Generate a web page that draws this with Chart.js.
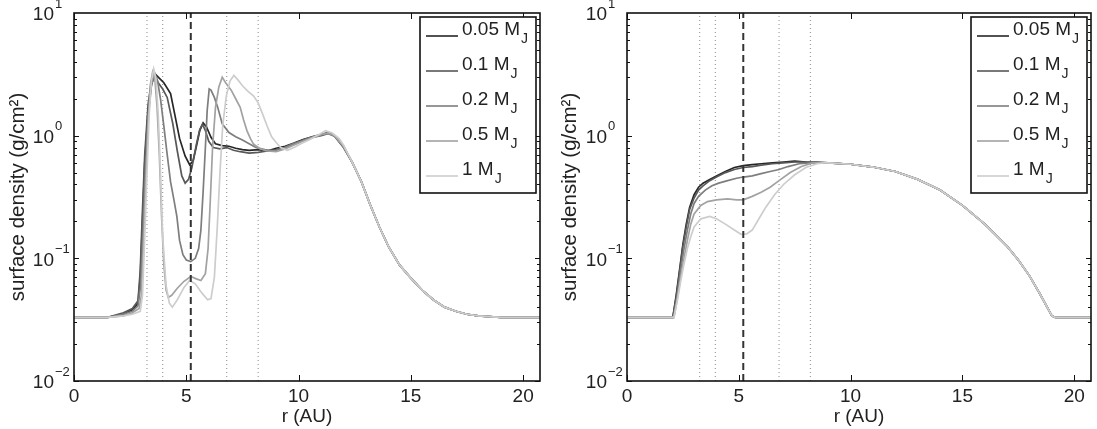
<!doctype html>
<html lang="en">
  <head>
    <meta charset="utf-8">
    <title>Surface density profiles</title>
    <style>
      * { margin: 0; padding: 0; }
      body { background: #fff; width: 1097px; height: 429px; overflow: hidden; }
      .panel { position: absolute; top: 0; height: 429px; }
      #leftBox { left: 0; width: 548px; }
      #rightBox { left: 552px; width: 545px; }
    </style>
  </head>
  <body>
    <div class="panel" id="leftBox"><canvas id="leftChart"></canvas></div>
    <div class="panel" id="rightBox"><canvas id="rightChart"></canvas></div>
    <script src="https://cdn.jsdelivr.net/npm/chart.js"></script>
    <script>
    // setup
    const masses = ['0.05', '0.1', '0.2', '0.5', '1'];
    const xTicks = [0, 5, 10, 15, 20];
    const yTicks = [0.01, 0.1, 1, 10];
    const planetR = 5.2;
    const hillR = [3.25, 3.95, 6.8, 8.2];

    // left panel, [r (AU), sigma (g/cm2)]
    const left005 = [[0,0.033],[1.5,0.033],[2.2,0.035],[2.6,0.038],[2.85,0.043],[2.95,0.07],[3.05,0.2],[3.15,0.6],[3.3,1.6],[3.45,2.6],[3.6,3.2],[3.75,3.0],[4.0,2.7],[4.3,2.2],[4.5,1.45],[4.7,0.95],[4.95,0.68],[5.15,0.58],[5.3,0.62],[5.45,0.82],[5.6,1.1],[5.75,1.27],[5.9,1.18],[6.1,0.97],[6.3,0.86],[6.6,0.83],[6.9,0.82],[7.2,0.79],[7.5,0.77],[7.8,0.76],[8.2,0.77],[8.6,0.75],[9.0,0.79],[9.4,0.82],[9.8,0.87],[10.2,0.93],[10.6,0.98],[11.0,1.02],[11.3,1.06],[11.6,1.0],[12.0,0.82]];
    const left01 = [[0,0.033],[1.5,0.033],[2.2,0.036],[2.6,0.039],[2.85,0.045],[2.95,0.08],[3.05,0.25],[3.15,0.7],[3.3,1.8],[3.45,2.8],[3.6,3.1],[3.75,2.7],[3.95,2.4],[4.15,2.05],[4.4,1.25],[4.6,0.75],[4.8,0.47],[4.95,0.41],[5.1,0.44],[5.25,0.55],[5.45,0.85],[5.6,1.12],[5.72,1.24],[5.85,1.1],[6.0,0.9],[6.2,0.8],[6.5,0.78],[6.8,0.8],[7.1,0.76],[7.4,0.74],[7.8,0.72],[8.2,0.73],[8.6,0.75],[9.0,0.77],[9.4,0.8],[9.8,0.86],[10.2,0.92],[10.6,0.97],[11.0,1.0],[11.3,1.04],[11.6,0.99],[12.0,0.8]];
    const left02 = [[0,0.033],[1.5,0.033],[2.2,0.035],[2.6,0.037],[2.85,0.041],[2.97,0.06],[3.07,0.16],[3.17,0.5],[3.3,1.4],[3.45,2.6],[3.6,3.2],[3.72,2.8],[3.85,2.0],[4.0,1.2],[4.15,0.7],[4.3,0.42],[4.45,0.3],[4.58,0.22],[4.7,0.14],[4.85,0.107],[5.0,0.097],[5.2,0.094],[5.4,0.1],[5.55,0.12],[5.65,0.17],[5.75,0.35],[5.85,0.8],[5.93,1.6],[6.02,2.4],[6.1,2.35],[6.25,2.05],[6.4,1.7],[6.6,1.25],[6.9,1.06],[7.2,0.98],[7.5,0.92],[7.8,0.86],[8.1,0.8],[8.5,0.77],[8.9,0.75],[9.3,0.79],[9.7,0.85],[10.1,0.9],[10.5,0.96],[10.9,1.01],[11.3,1.05],[11.6,1.0],[12.0,0.81]];
    const left05 = [[0,0.033],[1.5,0.033],[2.2,0.034],[2.6,0.036],[2.9,0.039],[3.0,0.05],[3.1,0.14],[3.2,0.45],[3.3,1.3],[3.4,2.6],[3.5,3.3],[3.6,2.9],[3.7,1.7],[3.8,0.7],[3.9,0.22],[4.0,0.09],[4.1,0.055],[4.2,0.048],[4.35,0.05],[4.6,0.057],[4.9,0.065],[5.2,0.071],[5.45,0.068],[5.65,0.066],[5.85,0.075],[5.97,0.12],[6.07,0.3],[6.17,0.8],[6.3,1.7],[6.45,2.5],[6.6,3.0],[6.75,2.7],[7.0,2.35],[7.2,2.0],[7.4,1.7],[7.55,1.35],[7.7,1.1],[7.85,0.95],[8.0,0.85],[8.3,0.78],[8.6,0.75],[9.0,0.74],[9.4,0.78],[9.8,0.84],[10.2,0.9],[10.6,0.96],[11.0,1.02],[11.3,1.05],[11.6,1.0],[12.0,0.82]];
    const left1 = [[0,0.033],[1.5,0.033],[2.2,0.034],[2.6,0.035],[2.95,0.037],[3.05,0.05],[3.15,0.15],[3.25,0.5],[3.35,1.5],[3.45,2.8],[3.55,3.5],[3.65,2.9],[3.75,1.5],[3.85,0.5],[3.95,0.15],[4.1,0.06],[4.25,0.043],[4.38,0.04],[4.6,0.046],[4.9,0.058],[5.15,0.066],[5.4,0.062],[5.7,0.052],[5.95,0.046],[6.1,0.047],[6.25,0.07],[6.38,0.18],[6.5,0.5],[6.62,1.2],[6.78,2.1],[6.95,2.8],[7.12,3.1],[7.3,2.85],[7.5,2.55],[7.75,2.3],[8.0,2.1],[8.2,1.85],[8.4,1.5],[8.6,1.2],[8.8,0.98],[9.0,0.88],[9.2,0.8],[9.5,0.76],[9.8,0.8],[10.1,0.86],[10.5,0.93],[10.9,1.02],[11.2,1.1],[11.5,1.05],[11.8,0.95],[12.0,0.84]];
    const leftTail = [[12.4,0.6],[12.8,0.42],[13.2,0.27],[13.6,0.18],[14,0.125],[14.5,0.088],[15,0.069],[15.5,0.055],[16,0.046],[16.5,0.04],[17,0.037],[17.5,0.035],[18,0.034],[19,0.033],[20.75,0.033]];

    // right panel, [r (AU), sigma (g/cm2)]
    const right005 = [[0,0.033],[2.05,0.033],[2.2,0.05],[2.35,0.08],[2.5,0.13],[2.65,0.19],[2.8,0.26],[3.0,0.33],[3.2,0.38],[3.4,0.41],[3.7,0.44],[4.0,0.47],[4.4,0.51],[4.8,0.55],[5.2,0.57],[5.6,0.58],[6.0,0.59],[6.5,0.6],[7.0,0.61],[7.5,0.62],[8.0,0.61],[8.5,0.605]];
    const right01 = [[0,0.033],[2.05,0.033],[2.2,0.048],[2.35,0.077],[2.5,0.125],[2.65,0.18],[2.8,0.25],[3.0,0.31],[3.2,0.36],[3.4,0.39],[3.7,0.43],[4.0,0.46],[4.4,0.5],[4.8,0.53],[5.2,0.55],[5.6,0.56],[6.0,0.575],[6.5,0.59],[7.0,0.6],[7.5,0.61],[8.0,0.61],[8.5,0.605]];
    const right02 = [[0,0.033],[2.08,0.033],[2.25,0.05],[2.4,0.08],[2.55,0.12],[2.7,0.17],[2.85,0.23],[3.0,0.28],[3.2,0.32],[3.5,0.36],[3.8,0.39],[4.1,0.41],[4.5,0.43],[4.9,0.45],[5.2,0.46],[5.6,0.47],[6.0,0.49],[6.4,0.51],[6.8,0.53],[7.2,0.56],[7.7,0.59],[8.2,0.6],[8.6,0.6]];
    const right05 = [[0,0.033],[2.1,0.033],[2.25,0.047],[2.4,0.07],[2.55,0.1],[2.7,0.14],[2.85,0.19],[3.0,0.23],[3.3,0.27],[3.6,0.29],[4.0,0.3],[4.5,0.305],[4.9,0.3],[5.2,0.3],[5.6,0.32],[6.0,0.345],[6.4,0.38],[6.8,0.43],[7.3,0.5],[7.8,0.56],[8.3,0.6],[8.7,0.6]];
    const right1 = [[0,0.033],[2.1,0.033],[2.25,0.045],[2.4,0.065],[2.55,0.09],[2.7,0.12],[2.85,0.15],[3.0,0.18],[3.3,0.21],[3.7,0.22],[4.0,0.21],[4.4,0.19],[4.8,0.17],[5.1,0.157],[5.35,0.158],[5.6,0.17],[5.9,0.21],[6.2,0.26],[6.6,0.33],[7.0,0.4],[7.5,0.48],[8.0,0.55],[8.5,0.59],[8.8,0.6]];
    const rightTail = [[9,0.6],[10,0.585],[11,0.555],[12,0.51],[13,0.44],[14,0.36],[15,0.27],[16,0.19],[17,0.125],[17.5,0.097],[18,0.072],[18.5,0.05],[19,0.034],[19.15,0.033],[20.75,0.033]];

    const lineColors = ['#262626', '#585858', '#7e7e7e', '#a2a2a2', '#cdcdcd'];
    const font = '"Liberation Sans", Arial, sans-serif';

    // matlab style box, inward ticks, 10^n labels and legend
    const matlabAxes = {
      id: 'matlabAxes',
      afterDraw(chart) {
        const { ctx, chartArea: a, scales: { x, y } } = chart;
        ctx.save();
        ctx.strokeStyle = '#111';
        ctx.lineWidth = 1;
        ctx.beginPath();
        xTicks.forEach(v => {
          const px = Math.round(x.getPixelForValue(v)) + 0.5;
          ctx.moveTo(px, a.bottom); ctx.lineTo(px, a.bottom - 6);
          ctx.moveTo(px, a.top); ctx.lineTo(px, a.top + 6);
        });
        for (let e = -2; e < 1; e++) {
          for (let m = 1; m < 10; m++) {
            const py = Math.round(y.getPixelForValue(m * Math.pow(10, e))) + 0.5;
            const len = m === 1 ? 5 : 3;
            ctx.moveTo(a.left, py); ctx.lineTo(a.left + len, py);
            ctx.moveTo(a.right, py); ctx.lineTo(a.right - len, py);
          }
        }
        ctx.stroke();
        ctx.lineWidth = 1.6;
        ctx.strokeRect(a.left, a.top, a.right - a.left, a.bottom - a.top);

        // y tick labels with superscript exponents
        ctx.fillStyle = '#222';
        ctx.textBaseline = 'middle';
        yTicks.forEach(v => {
          const py = y.getPixelForValue(v);
          const e = Math.round(Math.log10(v));
          ctx.font = '19px ' + font;
          ctx.textAlign = 'right';
          ctx.fillText('10', a.left - 20, py + 2);
          ctx.font = '13px ' + font;
          ctx.textAlign = 'left';
          ctx.fillText((e < 0 ? '\u2212' : '') + Math.abs(e), a.left - 19, py - 9);
        });

        // legend
        const bx = a.right - 120, by = 17, bw = 116, bh = 176;
        ctx.fillStyle = '#fff';
        ctx.fillRect(bx, by, bw, bh);
        ctx.strokeStyle = '#111';
        ctx.lineWidth = 1.6;
        ctx.strokeRect(bx, by, bw, bh);
        chart.data.datasets.slice(0, masses.length).forEach((d, i) => {
          const cy = by + 12.5 + i * 35;
          ctx.strokeStyle = d.borderColor;
          ctx.lineWidth = 1.6;
          ctx.beginPath();
          ctx.moveTo(bx + 6, cy + 6.5); ctx.lineTo(bx + 38, cy + 6.5);
          ctx.stroke();
          const [main, sub] = d.label.split('_');
          ctx.fillStyle = '#222';
          ctx.font = '19px ' + font;
          ctx.textAlign = 'left';
          ctx.fillText(main, bx + 42, cy);
          const w = ctx.measureText(main).width;
          ctx.font = '14px ' + font;
          ctx.fillText(sub, bx + 42 + w + 1, cy + 10);
        });
        ctx.restore();
      }
    };

    function makeChart(id, series, tail, padRight, yWidth) {
      const datasets = series.map((s, i) => ({
        label: masses[i] + ' M_J',
        data: s.concat(tail).map(p => ({ x: p[0], y: p[1] })),
        borderColor: lineColors[i],
        borderWidth: 1.7,
        pointRadius: 0,
        order: 10 - i
      }));
      hillR.forEach(r => datasets.push({
        label: '',
        data: [{ x: r, y: 0.01 }, { x: r, y: 10 }],
        borderColor: '#8a8a8a',
        borderWidth: 1,
        borderDash: [1, 3],
        pointRadius: 0,
        order: 20
      }));
      datasets.push({
        label: '',
        data: [{ x: planetR, y: 0.01 }, { x: planetR, y: 10 }],
        borderColor: '#333',
        borderWidth: 2,
        borderDash: [7, 4],
        pointRadius: 0,
        order: 0
      });

      return new Chart(document.getElementById(id), {
        type: 'line',
        data: { datasets },
        options: {
          responsive: true,
          maintainAspectRatio: false,
          animation: false,
          layout: { padding: { top: 13, right: padRight, left: 0, bottom: 0 } },
          plugins: { legend: { display: false }, tooltip: { enabled: false } },
          scales: {
            x: {
              type: 'linear',
              min: 0,
              max: 20.75,
              afterBuildTicks: s => { s.ticks = xTicks.map(v => ({ value: v })); },
              afterFit: s => { s.height = 48; },
              grid: { display: false, drawTicks: false },
              border: { display: false },
              ticks: { font: { family: font, size: 19 }, color: '#222', padding: 4, maxRotation: 0 },
              title: { display: true, text: 'r (AU)', font: { family: font, size: 19 }, color: '#222', padding: { top: 0, bottom: 1 } }
            },
            y: {
              type: 'logarithmic',
              min: 0.01,
              max: 10,
              afterFit: s => { s.width = yWidth; },
              grid: { display: false, drawTicks: false },
              border: { display: false },
              ticks: { display: false },
              title: { display: true, text: 'surface density (g/cm²)', font: { family: font, size: 20.5 }, color: '#222', padding: { top: 6.5, bottom: 0 } }
            }
          }
        },
        plugins: [matlabAxes]
      });
    }

    // render init block
    makeChart('leftChart', [left005, left01, left02, left05, left1], leftTail, 8, 74);
    makeChart('rightChart', [right005, right01, right02, right05, right1], rightTail, 6, 75);
    </script>
  </body>
</html>
